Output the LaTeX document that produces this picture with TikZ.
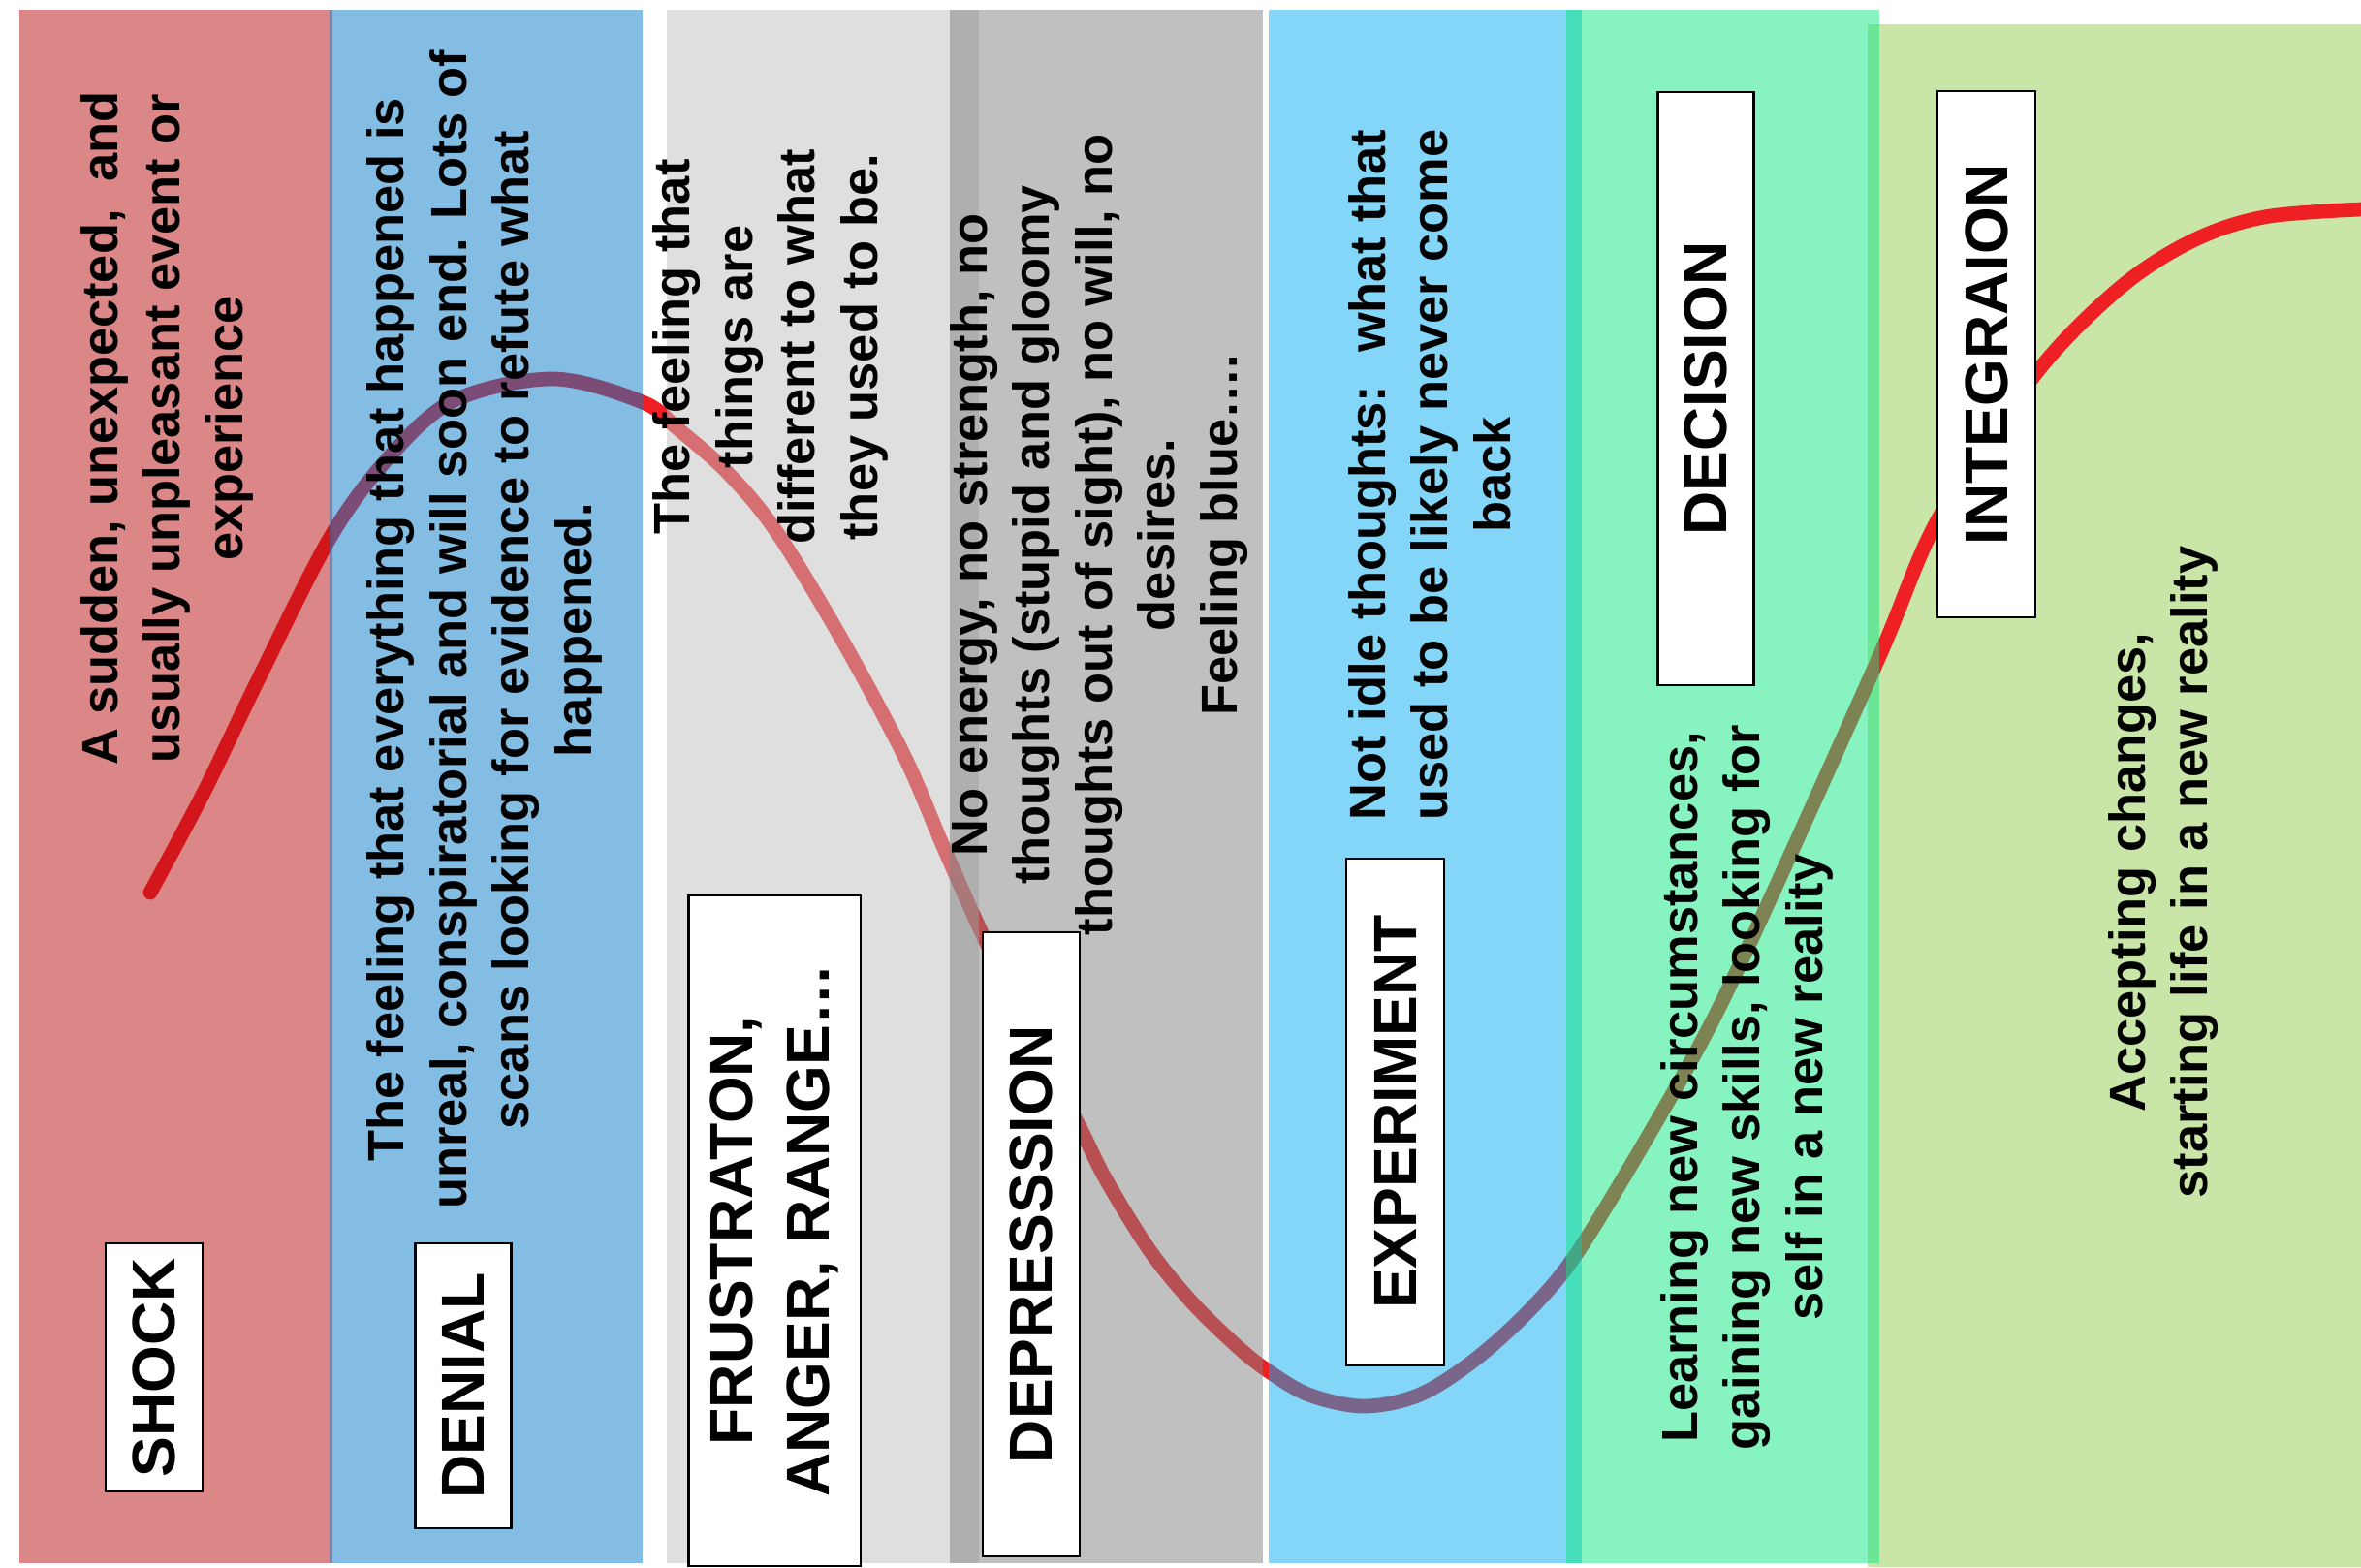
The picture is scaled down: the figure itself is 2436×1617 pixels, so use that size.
\documentclass[tikz,border=0pt]{standalone}
\usepackage{fontspec}
\setmainfont{Liberation Sans}
\definecolor{shockC}{RGB}{183,13,15}
\definecolor{denialC}{RGB}{9,123,201}
\definecolor{frustC}{RGB}{191,191,191}
\definecolor{depC}{RGB}{129,129,129}
\definecolor{expC}{RGB}{7,173,241}
\definecolor{decC}{RGB}{13,231,129}
\definecolor{intC}{RGB}{201,230,168}
\definecolor{curveC}{RGB}{238,32,36}
\newcommand{\bodyfnt}{\fontsize{14.9pt}{18.35pt}\selectfont\bfseries}
\newcommand{\lblfnt}{\fontsize{17.8pt}{22.2pt}\selectfont\bfseries}
\begin{document}
\begin{tikzpicture}[x=0.01cm, y=-0.01cm,
  band/.style={fill opacity=0.5},
  desc/.style={rotate=90, align=center, font=\bodyfnt, inner sep=0pt},
  lbl/.style={rotate=90, draw=black, line width=0.6pt, fill=white, align=center, font=\lblfnt, inner sep=0pt},
  curve/.style={draw=curveC, line width=4.2pt, line cap=round}]
\useasboundingbox (0,0) rectangle (2436,1617);
% integration band (under the curve)
\fill[intC] (1927,25) rectangle (2436,1617);
% the curve
\draw[curve] plot[smooth, tension=0.55] coordinates {
 (155,921) (210,818) (268,698) (341,554) (402,471) (469,413) (571,391)
 (663,415) (700,443) (750,487) (800,547) (867,657) (933,780) (973,873)
 (1014,965) (1064,1068) (1114,1163) (1141,1217) (1186,1290) (1230,1344)
 (1275,1388) (1306,1413) (1350,1439) (1407,1451) (1465,1439) (1523,1402)
 (1580,1350) (1627,1293) (1700,1173) (1767,1053) (1833,913) (1940,675)
 (2000,535) (2100,386) (2186,298) (2261,249) (2336,224) (2436,216)};
% semi-transparent bands over the curve
\fill[shockC, band] (20,10) rectangle (343,1613);
\fill[denialC, band] (340,10) rectangle (663,1613);
\fill[frustC, band] (688,10) rectangle (1010,1613);
\fill[depC, band] (980,10) rectangle (1303,1613);
\fill[expC, band] (1309,10) rectangle (1632,1613);
\fill[decC, band] (1616,10) rectangle (1939,1613);
% descriptions
\node[desc] (tshock) at (172,442) {A sudden, unexpected,~ and\\usually unpleasant event or\\experience};
\node[desc] (tdenial) at (500,650) {The feeling that everything that happened is\\unreal, conspiratorial and will soon end. Lots of\\scans looking for evidence to refute what\\happened.};
\node[desc] (tfrust) at (795,358) {The feeling that\\things are\\different to what\\they used to be.};
\node[desc] (tdep) at (1134,552) {No energy, no strength, no\\thoughts (stupid and gloomy\\thoughts out of sight), no will, no\\desires.\\Feeling blue….};
\node[desc] (texp) at (1475,490) {Not idle thoughts:~ what that\\used to be likely never come\\back};
\node[desc] (tdec) at (1802,1122) {Learning new circumstances,\\gaining new skills, looking for\\self in a new reality};
\node[desc] (tint) at (2232,900) {Accepting changes,\\starting life in a new reality};
% stage labels
\node[lbl, minimum width=2.56cm, minimum height=1.00cm] (lshock) at (159,1411) {SHOCK};
\node[lbl, minimum width=2.94cm, minimum height=0.99cm] (ldenial) at (478,1430) {DENIAL};
\node[lbl, minimum width=6.92cm, minimum height=1.77cm] (lfrust) at (799,1270) {FRUSTRATON,\\ANGER, RANGE…};
\node[lbl, minimum width=6.44cm, minimum height=1.00cm] (ldep) at (1064,1284) {DEPRESSSION};
\node[lbl, minimum width=5.23cm, minimum height=1.01cm] (lexp) at (1439.5,1147.5) {EXPERIMENT};
\node[lbl, minimum width=6.12cm, minimum height=0.99cm] (ldec) at (1760,401) {DECISION};
\node[lbl, minimum width=5.43cm, minimum height=1.01cm] (lint) at (2049.5,365.5) {INTEGRAION};
\end{tikzpicture}
\end{document}
